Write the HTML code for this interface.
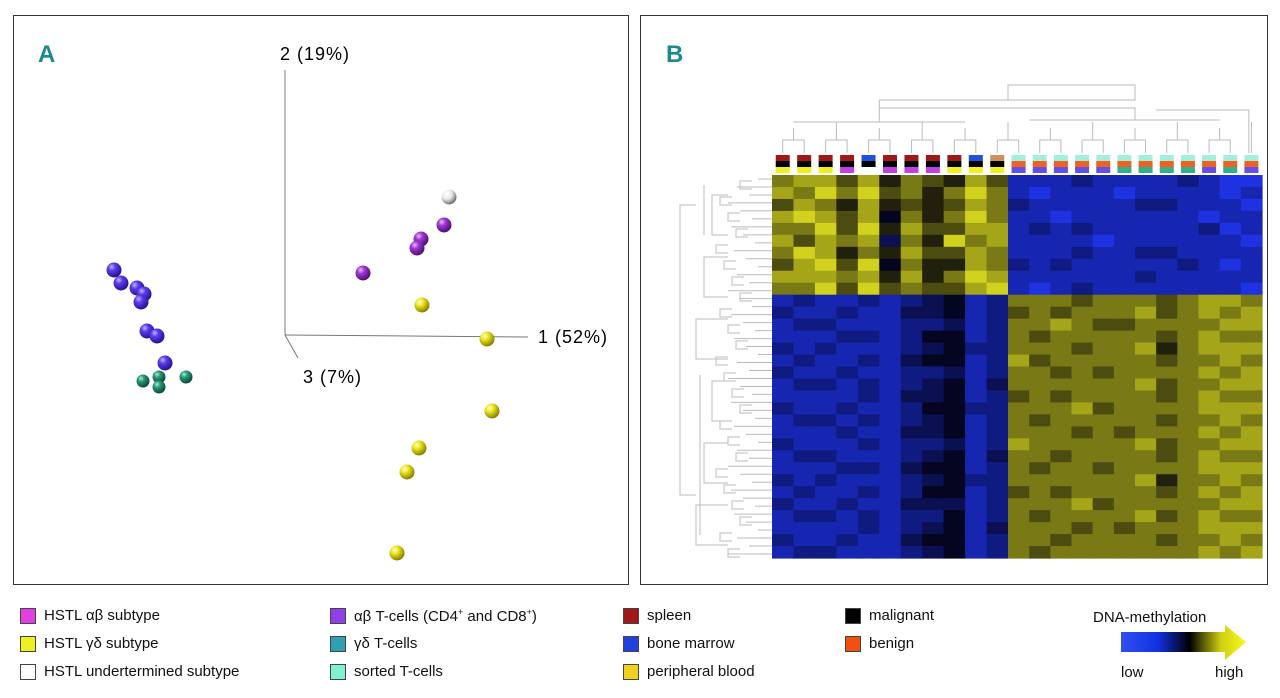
<!DOCTYPE html>
<html><head><meta charset="utf-8"><style>
body{margin:0;width:1280px;height:698px;background:#fff;font-family:"Liberation Sans",sans-serif;overflow:hidden;position:relative}
.leg{position:absolute;font-size:15px;color:#111;white-space:nowrap}
.sw{position:absolute;width:14px;height:14px;border:1px solid #444}
</style></head><body>
<svg width="1280" height="698" style="position:absolute;left:0;top:0">
<defs>
<radialGradient id="gP" cx="35%" cy="30%" r="70%"><stop offset="0" stop-color="#c8b8ff"/><stop offset=".35" stop-color="#5a3cf0"/><stop offset="1" stop-color="#2a1090"/></radialGradient>
<radialGradient id="gT" cx="35%" cy="30%" r="70%"><stop offset="0" stop-color="#a8f0d8"/><stop offset=".35" stop-color="#2a9a7a"/><stop offset="1" stop-color="#0c4a3a"/></radialGradient>
<radialGradient id="gM" cx="35%" cy="30%" r="70%"><stop offset="0" stop-color="#f0c0ff"/><stop offset=".35" stop-color="#a038d8"/><stop offset="1" stop-color="#501070"/></radialGradient>
<radialGradient id="gY" cx="35%" cy="30%" r="70%"><stop offset="0" stop-color="#ffffe0"/><stop offset=".35" stop-color="#f0e820"/><stop offset="1" stop-color="#8a8000"/></radialGradient>
<radialGradient id="gW" cx="35%" cy="30%" r="70%"><stop offset="0" stop-color="#fff"/><stop offset=".5" stop-color="#e8e8e8"/><stop offset="1" stop-color="#707070"/></radialGradient>
<linearGradient id="gDNA" x1="0" x2="1"><stop offset="0" stop-color="#3050f0"/><stop offset=".3" stop-color="#1030e0"/><stop offset=".55" stop-color="#000"/><stop offset=".8" stop-color="#d0d010"/><stop offset="1" stop-color="#f8f820"/></linearGradient>
</defs>
<rect x="13.5" y="15.5" width="615" height="569" fill="none" stroke="#333"/>
<rect x="640.5" y="15.5" width="627" height="569" fill="none" stroke="#333"/>
<text x="38" y="62" font-size="24" font-weight="bold" fill="#1a8a8a" font-family="Liberation Sans Narrow,Liberation Sans,sans-serif">A</text>
<text x="666" y="62" font-size="24" font-weight="bold" fill="#1a8a8a" font-family="Liberation Sans Narrow,Liberation Sans,sans-serif">B</text>
<g stroke="#777" stroke-width="1">
<line x1="285" y1="70" x2="285" y2="335"/><line x1="285" y1="335" x2="528" y2="337"/><line x1="285" y1="335" x2="298" y2="358"/>
</g>
<text x="280" y="60" font-size="18" letter-spacing="1">2 (19%)</text>
<text x="538" y="343" font-size="18" letter-spacing="1">1 (52%)</text>
<text x="303" y="383" font-size="18" letter-spacing="1">3 (7%)</text>
<g id="pts"></g>
<g id="dendro" stroke="#bbb" fill="none" stroke-width="1"></g>
<g id="heat"></g>
<g id="ann"></g>
<path d="M1121 632 H1225 V625 L1246 642 L1225 660 V652 H1121 Z" fill="url(#gDNA)"/>
</svg>
<div class="leg" style="left:1093px;top:609px">DNA-methylation</div>
<div class="leg" style="left:1121px;top:664px">low</div>
<div class="leg" style="left:1215px;top:664px">high</div>

<div class="sw" style="left:20px;top:608px;background:#e040e0"></div><div class="leg" style="left:44px;top:607px">HSTL αβ subtype</div>
<div class="sw" style="left:20px;top:636px;background:#f0f020"></div><div class="leg" style="left:44px;top:635px">HSTL γδ subtype</div>
<div class="sw" style="left:20px;top:664px;background:#fff"></div><div class="leg" style="left:44px;top:663px">HSTL undertermined subtype</div>
<div class="sw" style="left:330px;top:608px;background:#9040e8"></div><div class="leg" style="left:354px;top:607px">αβ T-cells (CD4<sup style="font-size:9px">+</sup> and CD8<sup style="font-size:9px">+</sup>)</div>
<div class="sw" style="left:330px;top:636px;background:#30a0b0"></div><div class="leg" style="left:354px;top:635px">γδ T-cells</div>
<div class="sw" style="left:330px;top:664px;background:#80f0d0"></div><div class="leg" style="left:354px;top:663px">sorted T-cells</div>
<div class="sw" style="left:623px;top:608px;background:#a01818"></div><div class="leg" style="left:647px;top:607px">spleen</div>
<div class="sw" style="left:623px;top:636px;background:#2040e0"></div><div class="leg" style="left:647px;top:635px">bone marrow</div>
<div class="sw" style="left:623px;top:664px;background:#f0d020"></div><div class="leg" style="left:647px;top:663px">peripheral blood</div>
<div class="sw" style="left:845px;top:608px;background:#000"></div><div class="leg" style="left:869px;top:607px">malignant</div>
<div class="sw" style="left:845px;top:636px;background:#f05010"></div><div class="leg" style="left:869px;top:635px">benign</div>

<script>
const ptX=[114,121,137,144,141,147,157,165,143,159,159,186,444,421,417,363,422,487,492,419,407,397,449];
const ptY=[270,283,288,294,302,331,336,363,381,377,387,377,225,239,248,273,305,339,411,448,472,553,197];
const ptGroup=['P','P','P','P','P','P','P','P','T','T','T','T','M','M','M','M','Y','Y','Y','Y','Y','Y','W'];
const heatRows=[
"78868576586 111211112100",
"87979675797 101110111101",
"68758565687 211111221110",
"89868475797 110111111011",
"77969586688 121211111201",
"86878375978 111101111110",
"79857586687 111211221111",
"68969475587 212111112101",
"88878585798 111111211111",
"77969676689 101211111110",
"12112123412 777677767887",
"21121133412 676777867878",
"12211122312 778766777788",
"11122124412 767777767877",
"21211123422 777677857888",
"12112134412 867777767787",
"21121122312 776767777878",
"12212123413 777777867788",
"11112133412 676777767877",
"21121124422 777867777888",
"12212123412 767777767787",
"11121133412 777676777878",
"21112122312 877777867788",
"12211123413 776777767877",
"11122134412 767767777888",
"21211123422 777777857787",
"12112124412 676777767878",
"21121133312 777867777788",
"12212122412 767777867877",
"11112123413 777676777888",
"21121134412 776777767787",
"12211123412 767777777878"];
const colTissue=['S','S','S','S','B','S','S','S','S','B','O','','','','','','','','','','','',''];
const colSubtype=['Y','Y','Y','M','','M','M','M','Y','Y','Y','','','','','','','','','','','',''];
const colSorted=[0,0,0,0,0,0,0,0,0,0,0,1,1,1,1,1,1,1,1,1,1,1,1];
const colBottom=['','','','','','','','','','','','P','P','P','P','P','T','T','T','T','P','T','P'];

const NS='http://www.w3.org/2000/svg';
function mk(tag,attrs,parent){const e=document.createElementNS(NS,tag);for(const k in attrs)e.setAttribute(k,attrs[k]);parent.appendChild(e);return e;}
const grad={P:'url(#gP)',T:'url(#gT)',M:'url(#gM)',Y:'url(#gY)',W:'url(#gW)'};
const pts=document.getElementById('pts');
ptX.forEach((x,i)=>{const c=mk('circle',{cx:x,cy:ptY[i],r:ptGroup[i]==='T'?6.5:7.5,fill:grad[ptGroup[i]]},pts);

});

// heatmap
const hx0=772,hx1=1262,hy0=175,hy1=558;
const splitX=1008;
function colX(j){return j<11? hx0+ (splitX-hx0)*j/11 : splitX+(hx1-splitX)*(j-11)/12;}
function colW(j){return j<11?(splitX-hx0)/11:(hx1-splitX)/12;}
function valColor(v){const t=v/9;let r,g,b;
 if(t<0.5){const s=t/0.5;r=30*(1-s);g=50*(1-s);b=225*(1-s)+10*s;}
 else{const s=(t-0.5)/0.5;r=10+200*s;g=10+200*s;b=10+20*s;}
 return `rgb(${r|0},${g|0},${b|0})`;}
const heat=document.getElementById('heat');
const rh=(hy1-hy0)/heatRows.length;
heatRows.forEach((row,i)=>{const vals=row.replace(' ','').split('').map(Number);
 vals.forEach((v,j)=>{const r=mk('rect',{x:colX(j),y:hy0+i*rh,width:colW(j)+0.6,height:rh+0.6,fill:valColor(v)},heat);
 
 });});

// annotations
const ann=document.getElementById('ann');
const tc={S:'#a01818',B:'#2050e0',O:'#d09060'},sc={Y:'#f0f020',M:'#c040e0'},bc={P:'#6050e8',T:'#30b090'};
for(let j=0;j<23;j++){const cx=colX(j)+colW(j)/2-7;
 const add=(y,h,f)=>{const r=mk('rect',{x:cx,y:y,width:14,height:h,fill:f},ann);
 
 };
 if(!colSorted[j]){add(155,6,tc[colTissue[j]]);add(161,6,'#000');if(colSubtype[j])add(167,6,sc[colSubtype[j]]);}
 else{add(155,6,'#a0f0e0');add(161,6,'#f06020');add(167,6,bc[colBottom[j]]);}}

// dendrograms
const dg=document.getElementById('dendro');

for(let j=0;j<23;j+=2){const a=colX(j)+colW(j)/2,b=colX(Math.min(j+1,22))+colW(j)/2;
 mk('path',{d:`M${a} 153 V140 H${b} V153`},dg);
 mk('path',{d:`M${(a+b)/2} 140 V${128-(j%4)*3}`},dg);}
mk('path',{d:`M${colX(1)} 122 H${colX(9)} M${colX(12)} 120 H${colX(21)} M${colX(5)} 122 V108 H${colX(17)} V120 M${colX(5)} 108 V100 M${colX(11)} 100 V85 H${colX(17)} V100 H${colX(5)} M${colX(22)+8} 153 V110 H${colX(18)}`},dg);
for(let i=0;i<48;i++){const y=hy0+4+i*(hy1-hy0-8)/47;const l=758-((i*7)%11)*3;
 mk('path',{d:`M772 ${y} H${l}`},dg);}
for(let i=0;i<24;i++){const y1=hy0+6+i*16,y2=y1+8;const x=740-((i*5)%7)*4;
 mk('path',{d:`M${x+12} ${y1} H${x} V${y2} H${x+12}`},dg);}
for(let i=0;i<6;i++){const y1=hy0+20+i*62,y2=y1+40;const x=712-(i%3)*8;
 mk('path',{d:`M728 ${y1} H${x} V${y2} H728`},dg);}
mk('path',{d:`M696 ${hy0+30} H680 V${hy0+320} H696 M704 ${hy0+60} V${hy0+10} M700 ${hy0+200} V${hy0+360}`},dg);
</script>
</body></html>
